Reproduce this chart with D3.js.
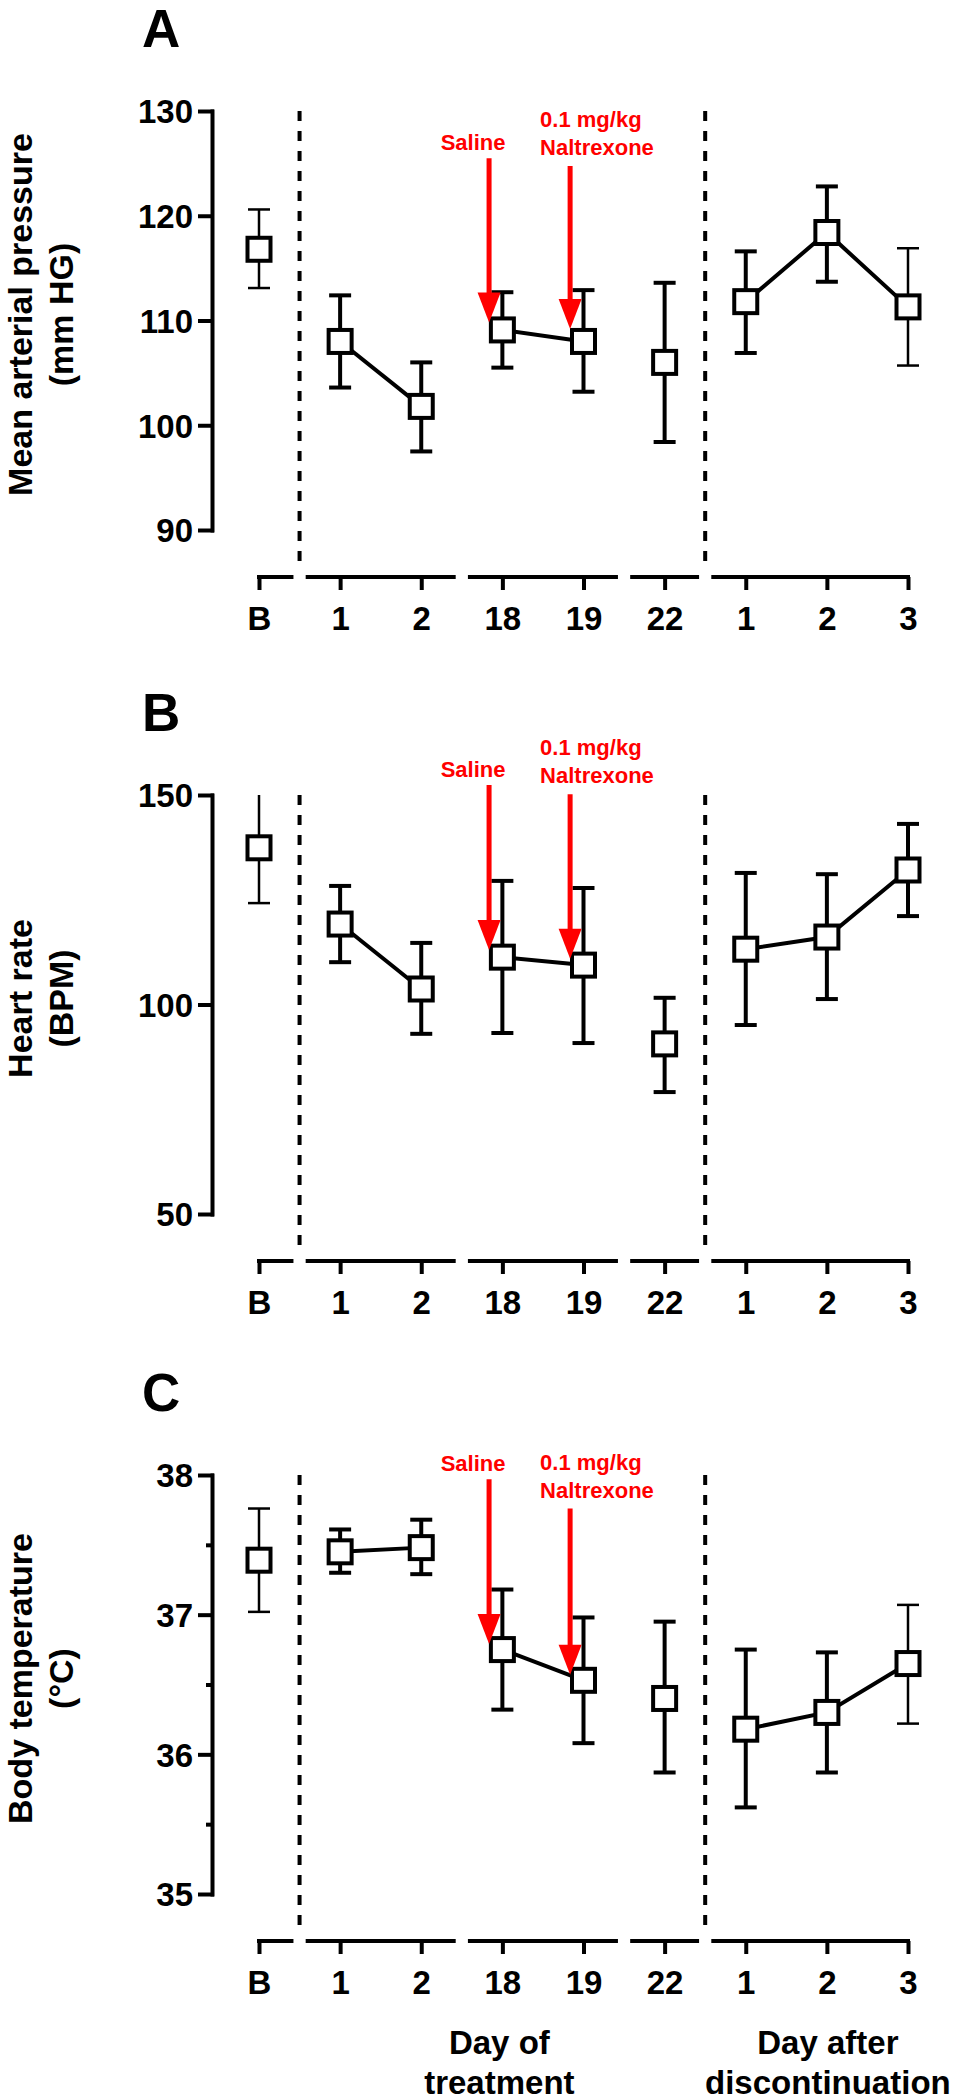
<!DOCTYPE html>
<html>
<head>
<meta charset="utf-8">
<script src="https://cdn.jsdelivr.net/npm/d3@7"></script>
<style>
  html, body { margin: 0; padding: 0; background: #fff; }
  svg { display: block; }
  text { font-family: "Liberation Sans", Arial, Helvetica, sans-serif; font-weight: bold; }
</style>
</head>
<body>
<svg id="chart" width="958" height="2100"></svg>
<script>
// ---------------- DATA ----------------
const categories = ["B", "1", "2", "18", "19", "22", "1", "2", "3"];
// groups of categories sharing an x-axis segment
const axisGroups = [[0], [1, 2], [3, 4], [5], [6, 7, 8]];
// groups of points joined by a line
const lineGroups = [[1, 2], [3, 4], [6, 7, 8]];

// Panel A: Mean arterial pressure (mm HG)
const mapMean  = [116.8, 108.0, 101.8, 109.1, 108.0, 106.0, 111.8, 118.4, 111.3];
const mapUpper = [120.6, 112.4, 106.0, 112.7, 112.9, 113.6, 116.6, 122.8, 116.9];
const mapLower = [113.1, 103.6,  97.5, 105.5, 103.2,  98.4, 106.9, 113.7, 105.7];
const mapTicks = [90, 100, 110, 120, 130];

// Panel B: Heart rate (BPM)
const hrMean  = [137.4, 119.2, 103.7, 111.3, 109.4,  90.6, 113.2, 116.1, 132.1];
const hrUpper = [151.0, 128.3, 114.7, 129.5, 127.8, 101.6, 131.4, 131.1, 143.1];
const hrLower = [124.2, 110.1,  93.0,  93.2,  90.8,  79.1,  95.1, 101.3, 121.1];
const hrTicks = [50, 100, 150];

// Panel C: Body temperature (°C)
const btMean  = [37.39, 37.45, 37.48, 36.75, 36.53, 36.40, 36.18, 36.30, 36.65];
const btUpper = [37.76, 37.61, 37.68, 37.18, 36.98, 36.95, 36.75, 36.73, 37.07];
const btLower = [37.02, 37.30, 37.29, 36.32, 36.08, 35.87, 35.62, 35.87, 36.22];
const btTicks = [35, 36, 37, 38];
const btMinorTicks = [35.5, 36.5, 37.5];

// Arrows: x as category position, tip/top as values on the panel's y scale
const mapArrows = [{x: 2.836, tip: 109.8, top: 125.5}, {x: 3.835, tip: 109.2, top: 124.75}];
const hrArrows  = [{x: 2.836, tip: 113.0, top: 152.4}, {x: 3.835, tip: 110.9, top: 150.2}];
const btArrows  = [{x: 2.836, tip: 36.79, top: 37.97}, {x: 3.835, tip: 36.57, top: 37.76}];

const panels = [
  {letter: "A", label: ["Mean arterial pressure", "(mm HG)"], domain: [90, 130], ticks: mapTicks, minor: [],
   mean: mapMean, upper: mapUpper, lower: mapLower, thin: [0, 8], arrows: mapArrows, top: 111},
  {letter: "B", label: ["Heart rate", "(BPM)"], domain: [50, 150], ticks: hrTicks, minor: [],
   mean: hrMean, upper: hrUpper, lower: hrLower, thin: [0], arrows: hrArrows, top: 795},
  {letter: "C", label: ["Body temperature", "(°C)"], domain: [35, 38], ticks: btTicks, minor: btMinorTicks,
   mean: btMean, upper: btUpper, lower: btLower, thin: [0, 8], arrows: btArrows, top: 1475}
];

// ---------------- DRAW ----------------
const svg = d3.select("#chart");
const RED = "#ff0000";
const plotH = 419;
const axisX = 212;
const x = d3.scaleLinear().domain([0, 8]).range([259, 908]);

panels.forEach((p, pi) => {
  const g = svg.append("g");
  const y = d3.scaleLinear().domain(p.domain).range([p.top + plotH, p.top]);
  const axisY = p.top + plotH + 47;

  // panel letter
  g.append("text").attr("x", 142).attr("y", p.top - 64)
    .attr("font-size", 53).text(p.letter);

  // y axis label
  const cy = p.top + plotH / 2 - 6;
  p.label.forEach((t, li) => {
    g.append("text")
      .attr("transform", `translate(${32 + li * 41},${cy}) rotate(-90)`)
      .attr("text-anchor", "middle").attr("font-size", 34).text(t);
  });

  // y axis
  const ya = g.append("g").attr("transform", `translate(${axisX},0)`)
    .call(d3.axisLeft(y).tickValues(p.ticks).tickSize(12).tickSizeOuter(0).tickPadding(7)
      .tickFormat(d3.format("d")));
  ya.select(".domain").attr("stroke-width", 4).attr("stroke-linecap", "square");
  ya.selectAll(".tick line").attr("stroke-width", 4).attr("stroke-linecap", "square");
  ya.selectAll(".tick text").attr("font-size", 33).attr("font-family", null).attr("dy", "0.36em");
  if (p.minor.length) {
    const ym = g.append("g").attr("transform", `translate(${axisX},0)`)
      .call(d3.axisLeft(y).tickValues(p.minor).tickSize(6).tickSizeOuter(0).tickFormat(""));
    ym.select(".domain").remove();
    ym.selectAll(".tick line").attr("stroke-width", 4);
  }

  // x axis (broken segments)
  const xa = g.append("g").attr("transform", `translate(0,${axisY})`)
    .call(d3.axisBottom(x).tickValues(d3.range(categories.length)).tickSize(13).tickPadding(17)
      .tickFormat(i => categories[i]));
  xa.select(".domain").remove();
  xa.selectAll(".tick line").attr("stroke-width", 4);
  xa.selectAll(".tick text").attr("font-size", 33).attr("font-family", null);
  axisGroups.forEach((grp, gi) => {
    const a = gi === 0 ? grp[0] : grp[0] - 0.4;
    const b = gi === axisGroups.length - 1 ? grp[grp.length - 1] : grp[grp.length - 1] + 0.4;
    xa.append("line").attr("x1", x(a) - 2).attr("x2", x(b) + 2).attr("y1", 0).attr("y2", 0)
      .attr("stroke", "#000").attr("stroke-width", 4);
  });

  // dashed separators
  [0.5, 5.5].forEach(v => {
    g.append("line").attr("x1", x(v)).attr("x2", x(v))
      .attr("y1", y(p.domain[1])).attr("y2", axisY - 8)
      .attr("stroke", "#000").attr("stroke-width", 4).attr("stroke-dasharray", "10,10");
  });

  // clip to plot range
  const clipId = "clip" + pi;
  svg.append("clipPath").attr("id", clipId).append("rect")
    .attr("x", 220).attr("y", y(p.domain[1])).attr("width", 738).attr("height", plotH);
  const data = g.append("g").attr("clip-path", `url(#${clipId})`);

  // connecting lines
  const line = d3.line().x(i => x(i)).y(i => y(p.mean[i]));
  lineGroups.forEach(grp => {
    data.append("path").attr("d", line(grp)).attr("fill", "none")
      .attr("stroke", "#000").attr("stroke-width", 4);
  });

  // error bars
  p.mean.forEach((m, i) => {
    const w = p.thin.includes(i) ? 2.5 : 4;
    data.append("line").attr("x1", x(i)).attr("x2", x(i))
      .attr("y1", y(p.lower[i])).attr("y2", y(p.upper[i]))
      .attr("stroke", "#000").attr("stroke-width", w);
    [p.lower[i], p.upper[i]].forEach(v => {
      if (v <= p.domain[1]) {
        data.append("line").attr("x1", x(i) - 11).attr("x2", x(i) + 11)
          .attr("y1", y(v)).attr("y2", y(v))
          .attr("stroke", "#000").attr("stroke-width", w);
      }
    });
  });

  // square markers
  p.mean.forEach((m, i) => {
    g.append("rect").attr("x", x(i) - 11.5).attr("y", y(m) - 11.5)
      .attr("width", 23).attr("height", 23)
      .attr("fill", "#fff").attr("stroke", "#000").attr("stroke-width", 4);
  });

  // arrows + annotations
  p.arrows.forEach((a, ai) => {
    const ax = x(a.x), tipY = y(a.tip), topY = y(a.top);
    g.append("line").attr("x1", ax).attr("x2", ax).attr("y1", topY).attr("y2", tipY - 28)
      .attr("stroke", RED).attr("stroke-width", 5);
    g.append("path")
      .attr("d", `M${ax - 11.5},${tipY - 30}L${ax + 11.5},${tipY - 30}L${ax},${tipY}Z`)
      .attr("fill", RED);
    if (ai === 0) {
      g.append("text").attr("x", ax - 16).attr("y", topY - 8).attr("text-anchor", "middle")
        .attr("font-size", 22).attr("fill", RED).text("Saline");
    } else {
      g.append("text").attr("x", ax - 30).attr("y", topY - 39)
        .attr("font-size", 22).attr("fill", RED).text("0.1 mg/kg");
      g.append("text").attr("x", ax - 30).attr("y", topY - 11)
        .attr("font-size", 22).attr("fill", RED).text("Naltrexone");
    }
  });

  // group titles (bottom panel only)
  if (pi === panels.length - 1) {
    [["Day of", "treatment"], ["Day after", "discontinuation"]].forEach((lines, k) => {
      const cx = k === 0 ? x(3) - 3 : x(7) + 1;
      lines.forEach((t, li) => {
        g.append("text").attr("x", cx).attr("y", axisY + 113 + li * 40)
          .attr("text-anchor", "middle").attr("font-size", 33).text(t);
      });
    });
  }
});
</script>
</body>
</html>
